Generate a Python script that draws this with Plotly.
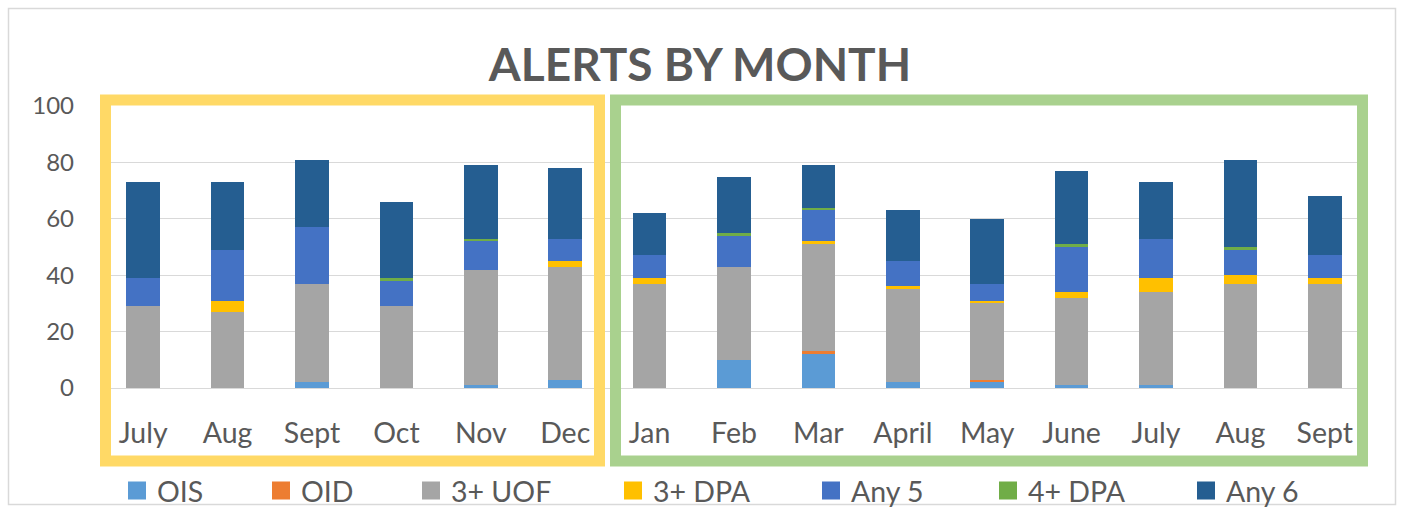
import plotly.graph_objects as go

# ---- data ----
months = ["July", "Aug", "Sept", "Oct", "Nov", "Dec", "Jan", "Feb", "Mar",
          "April", "May", "June", "July", "Aug", "Sept"]
ois = [0, 0, 2, 0, 1, 3, 0, 10, 12, 2, 2, 1, 1, 0, 0]
oid = [0, 0, 0, 0, 0, 0, 0, 0, 1, 0, 1, 0, 0, 0, 0]
uof3 = [29, 27, 35, 29, 41, 40, 37, 33, 38, 33, 27, 31, 33, 37, 37]
dpa3 = [0, 4, 0, 0, 0, 2, 2, 0, 1, 1, 1, 2, 5, 3, 2]
any5 = [10, 18, 20, 9, 10, 8, 8, 11, 11, 9, 6, 16, 14, 9, 8]
dpa4 = [0, 0, 0, 1, 1, 0, 0, 1, 1, 0, 0, 1, 0, 1, 0]
any6 = [34, 24, 24, 27, 26, 25, 15, 20, 15, 18, 23, 26, 20, 31, 21]

series_names = ["OIS", "OID", "3+ UOF", "3+ DPA", "Any 5", "4+ DPA", "Any 6"]
series_values = [ois, oid, uof3, dpa3, any5, dpa4, any6]
series_colors = ["#5B9BD5", "#ED7D31", "#A5A5A5", "#FFC000", "#4472C4", "#70AD47", "#255E91"]
y_ticks = [0, 20, 40, 60, 80, 100]

# ---- layout geometry (pixels, page space) ----
W, H = 1401, 510
ML, MR, MT, MB = 101, 34, 106, 122
PW = W - ML - MR
PH = H - MT - MB
xpos = list(range(len(months)))


def PX(px):
    return (px - ML) / PW


def PY(py):
    return (H - MB - py) / PH


TEXT = "#595959"
FONT = "Lato"

fig = go.Figure()
for name, vals, col in zip(series_names, series_values, series_colors):
    fig.add_trace(go.Bar(
        x=xpos, y=vals, name=name, marker=dict(color=col, line=dict(width=0)),
        showlegend=False, legendgroup=name,
    ))

legend_sq_left = [126, 270, 420, 622, 820, 997, 1195]
legends = {}
for i, (name, col) in enumerate(zip(series_names, series_colors)):
    key = "legend" if i == 0 else f"legend{i + 1}"
    fig.add_trace(go.Scatter(
        x=[None], y=[None], mode="markers", name=name, legendgroup=name,
        marker=dict(symbol="square", size=16, color=col, line=dict(width=2, color=col)),
        legend=key, showlegend=True,
    ))
    legends[key] = dict(
        x=PX(legend_sq_left[i] - 9), xanchor="left",
        y=PY(491), yanchor="middle", orientation="h",
        bgcolor="rgba(0,0,0,0)", borderwidth=0,
        font=dict(family=FONT, size=28.5, color=TEXT),
    )

fig.update_layout(
    width=W, height=H,
    margin=dict(l=ML, r=MR, t=MT, b=MB, autoexpand=False),
    paper_bgcolor="white", plot_bgcolor="white",
    barmode="stack", bargap=0.6,
    title=dict(text="<b>ALERTS BY MONTH</b>", x=700 / W, xanchor="center",
               xref="container", yref="container", y=1 - 65 / H, yanchor="middle",
               font=dict(family=FONT, size=46, color=TEXT)),
    xaxis=dict(tickmode="array", tickvals=xpos, ticktext=months,
               range=[-0.5, len(months) - 0.5], showgrid=False, zeroline=False,
               showline=False, ticks="", ticklabelstandoff=25, automargin=False,
               tickfont=dict(family=FONT, size=28.5, color=TEXT), fixedrange=True),
    yaxis=dict(range=[0, 100], tickvals=y_ticks, showgrid=True, gridcolor="#D9D9D9",
               gridwidth=1, zeroline=True, zerolinecolor="#D9D9D9", zerolinewidth=1,
               showline=False, ticks="", ticklabelstandoff=26, automargin=False,
               tickfont=dict(family=FONT, size=24, color=TEXT), fixedrange=True),
    showlegend=True,
    **legends,
)

shapes = [
    # outer chart border
    dict(type="rect", xref="paper", yref="paper", x0=PX(8.5), x1=PX(1395.5),
         y0=PY(504.5), y1=PY(8.5), line=dict(color="#D9D9D9", width=1.5), layer="below"),
    # yellow box
    dict(type="rect", xref="paper", yref="paper", x0=PX(105.5), x1=PX(599.5),
         y0=PY(461), y1=PY(100), line=dict(color="#FFD966", width=11), layer="above"),
    # green box
    dict(type="rect", xref="paper", yref="paper", x0=PX(615.5), x1=PX(1362.5),
         y0=PY(461), y1=PY(100), line=dict(color="#A9D18E", width=11), layer="above"),
]
fig.update_layout(shapes=shapes)

fig.write_html(
    "out.html",
    config={"displayModeBar": False},
    post_script="document.body.style.margin='0';document.body.style.overflow='hidden';",
)
